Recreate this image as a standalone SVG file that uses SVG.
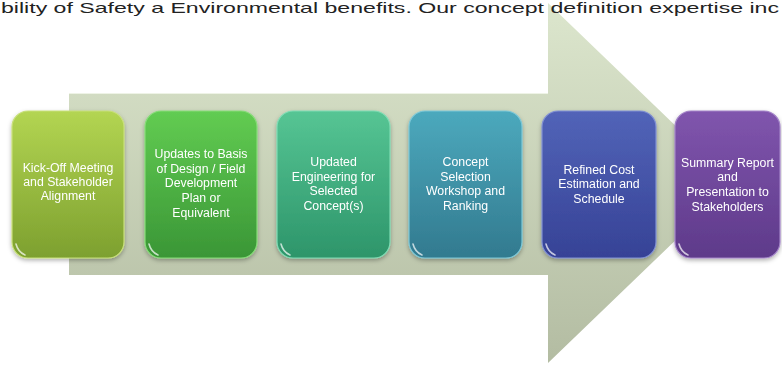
<svg xmlns="http://www.w3.org/2000/svg" width="782" height="365" viewBox="0 0 782 365">
<style>
.lbl{font-family:"Liberation Sans","Open Sans",Arial,sans-serif;font-size:12.3px;fill:#ffffff;text-anchor:middle}
.box{stroke-width:1.2}
.glint{fill:none;stroke:#ffffff;stroke-width:1.6;stroke-linecap:round;opacity:0.7}
.top{font-family:"Liberation Sans",Arial,sans-serif;font-size:14.5px;fill:#222222}
</style>
<defs>
<linearGradient id="arrowG" x1="0" y1="0" x2="0" y2="1">
<stop offset="0" stop-color="#dce6cd"/>
<stop offset="1" stop-color="#b3bca2"/>
</linearGradient>
<linearGradient id="g1" x1="0" y1="0" x2="0" y2="1"><stop offset="0" stop-color="#b3d552"/><stop offset="1" stop-color="#7da02f"/></linearGradient>
<linearGradient id="g2" x1="0" y1="0" x2="0" y2="1"><stop offset="0" stop-color="#62cc52"/><stop offset="1" stop-color="#3a9636"/></linearGradient>
<linearGradient id="g3" x1="0" y1="0" x2="0" y2="1"><stop offset="0" stop-color="#56c594"/><stop offset="1" stop-color="#2d956a"/></linearGradient>
<linearGradient id="g4" x1="0" y1="0" x2="0" y2="1"><stop offset="0" stop-color="#4ca9bd"/><stop offset="1" stop-color="#327a8f"/></linearGradient>
<linearGradient id="g5" x1="0" y1="0" x2="0" y2="1"><stop offset="0" stop-color="#5264b8"/><stop offset="1" stop-color="#364296"/></linearGradient>
<linearGradient id="g6" x1="0" y1="0" x2="0" y2="1"><stop offset="0" stop-color="#8055ad"/><stop offset="1" stop-color="#5e3a8a"/></linearGradient>
<filter id="sh" x="-20%" y="-20%" width="140%" height="140%">
<feDropShadow dx="0" dy="2" stdDeviation="2" flood-color="#000000" flood-opacity="0.3"/>
</filter>
</defs>

<g id="connectors">
<polygon id="arrow" points="69,93 548,93 548,3 735,183 548,363 548,275 69,275" fill="url(#arrowG)"/>
<line x1="69" y1="93.5" x2="548" y2="93.5" stroke="#eef3e6" stroke-width="1"/>
</g>

<text class="top" x="1" y="12.5" textLength="778" lengthAdjust="spacingAndGlyphs">bility of Safety a Environmental benefits. Our concept definition expertise inc</text>

<g id="node1" filter="url(#sh)">
<rect class="box" x="12" y="111" width="112" height="147" rx="16" fill="url(#g1)" stroke="#c8e07a"/>
<path class="glint" d="M16,244 Q18,252 25,255"/>
<text class="lbl" x="68" y="172">Kick-Off Meeting</text>
<text class="lbl" x="68" y="186">and Stakeholder</text>
<text class="lbl" x="68" y="200">Alignment</text>
</g>

<g id="node2" filter="url(#sh)">
<rect class="box" x="145" y="111" width="112" height="147" rx="16" fill="url(#g2)" stroke="#86dc78"/>
<path class="glint" d="M149,244 Q151,252 158,255"/>
<text class="lbl" x="201" y="158">Updates to Basis</text>
<text class="lbl" x="201" y="173">of Design / Field</text>
<text class="lbl" x="201" y="187">Development</text>
<text class="lbl" x="201" y="202">Plan or</text>
<text class="lbl" x="201" y="217">Equivalent</text>
</g>

<g id="node3" filter="url(#sh)">
<rect class="box" x="277" y="111" width="113" height="147" rx="16" fill="url(#g3)" stroke="#7fdcb4"/>
<path class="glint" d="M281,244 Q283,252 290,255"/>
<text class="lbl" x="333.5" y="166">Updated</text>
<text class="lbl" x="333.5" y="181">Engineering for</text>
<text class="lbl" x="333.5" y="195">Selected</text>
<text class="lbl" x="333.5" y="210">Concept(s)</text>
</g>

<g id="node4" filter="url(#sh)">
<rect class="box" x="409" y="111" width="113" height="147" rx="16" fill="url(#g4)" stroke="#7cc8d8"/>
<path class="glint" d="M413,244 Q415,252 422,255"/>
<text class="lbl" x="465.5" y="166">Concept</text>
<text class="lbl" x="465.5" y="181">Selection</text>
<text class="lbl" x="465.5" y="195">Workshop and</text>
<text class="lbl" x="465.5" y="210">Ranking</text>
</g>

<g id="node5" filter="url(#sh)">
<rect class="box" x="542" y="111" width="114" height="147" rx="16" fill="url(#g5)" stroke="#8090d4"/>
<path class="glint" d="M546,244 Q548,252 555,255"/>
<text class="lbl" x="599" y="174">Refined Cost</text>
<text class="lbl" x="599" y="188">Estimation and</text>
<text class="lbl" x="599" y="203">Schedule</text>
</g>

<g id="node6" filter="url(#sh)">
<rect class="box" x="675" y="111" width="105" height="147" rx="16" fill="url(#g6)" stroke="#a384c8"/>
<path class="glint" d="M679,244 Q681,252 688,255"/>
<text class="lbl" x="727.5" y="167">Summary Report</text>
<text class="lbl" x="727.5" y="181">and</text>
<text class="lbl" x="727.5" y="196">Presentation to</text>
<text class="lbl" x="727.5" y="211">Stakeholders</text>
</g>
</svg>
